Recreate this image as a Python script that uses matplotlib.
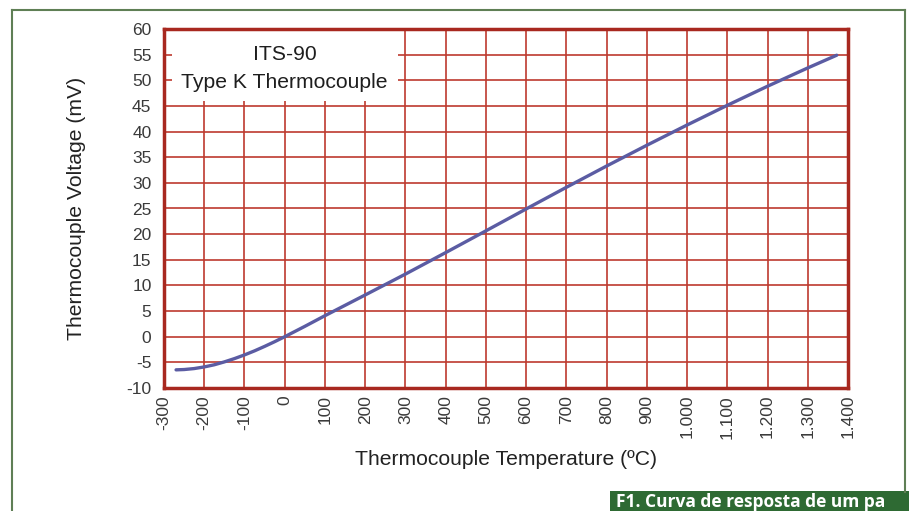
import matplotlib
matplotlib.use("Agg")
import matplotlib.pyplot as plt
from matplotlib.patches import Rectangle
from matplotlib.lines import Line2D
from matplotlib.ticker import FuncFormatter

plt.rcParams['font.family'] = ['Liberation Sans', 'DejaVu Sans']
plt.rcParams['axes.unicode_minus'] = False

# type K response curve (temperature in C, voltage in mV)
temp = [-270, -250, -225, -200, -175, -150, -125, -100, -75, -50, -25, 0,
        50, 100, 200, 300, 400, 500, 600, 700, 800, 900, 1000, 1100,
        1200, 1300, 1372]
volt = [-6.46, -6.40, -6.21, -5.89, -5.47, -4.91, -4.27, -3.55, -2.76, -1.89, -0.97, 0.0,
        2.02, 4.10, 8.14, 12.21, 16.40, 20.64, 24.91, 29.13, 33.28, 37.33, 41.28, 45.12,
        48.84, 52.41, 54.89]

xticks = list(range(-300, 1401, 100))
yticks = list(range(-10, 61, 5))

grid_red = '#bd3a2f'
frame_red = '#a8281f'
line_blue = '#5b5ca3'
frame_green = '#5f7f55'

fig = plt.figure(figsize=(9.09, 5.11), dpi=100)
ax = fig.add_axes([164/909, 1 - 388/511, 684/909, 359/511])

ax.set_xlim(-300, 1400)
ax.set_ylim(-10, 60)
ax.set_xticks(xticks)
ax.set_yticks(yticks)

def thousands(v, pos):
    v = int(v)
    if abs(v) >= 1000:
        return '{:,}'.format(v).replace(',', '.')
    return str(v)

ax.xaxis.set_major_formatter(FuncFormatter(thousands))
ax.tick_params(axis='x', length=0, pad=5, labelsize=12.5, labelcolor='#3a3a3a',
               labelrotation=90)
ax.tick_params(axis='y', length=0, pad=9, labelsize=12.5, labelcolor='#3a3a3a')

ax.grid(True, color=grid_red, linewidth=1.2, zorder=1)
ax.set_axisbelow(True)
for s in ax.spines.values():
    s.set_color(frame_red)
    s.set_linewidth(2.5)
    s.set_zorder(5)

ax.plot(temp, volt, color=line_blue, linewidth=2.4, zorder=4,
        solid_capstyle='round')

# title box in the upper left corner
ax.add_patch(Rectangle((-280, 46.0), 562, 14, facecolor='white',
                       edgecolor='none', zorder=3))
ax.text(0, 55.1, 'ITS-90', ha='center', va='center', fontsize=15.2,
        color='#1e1e1e', zorder=4)
ax.text(0, 49.6, 'Type K Thermocouple', ha='center', va='center',
        fontsize=15.2, color='#1e1e1e', zorder=4)

ax.set_xlabel('Thermocouple Temperature (\u00baC)', fontsize=15.2, color='#222222')
ax.set_ylabel('Thermocouple Voltage (mV)', fontsize=15.2, color='#222222')
ax.xaxis.set_label_coords(0.5, -0.173)
ax.yaxis.set_label_coords(-0.114, 0.5)

# green page frame
W, H = 909, 511
fig.add_artist(Line2D([12/W, 12/W], [0, 1 - 10/H], color=frame_green, lw=1.5))
fig.add_artist(Line2D([12/W, 905/W], [1 - 10/H, 1 - 10/H], color=frame_green, lw=1.5))
fig.add_artist(Line2D([905/W, 905/W], [1 - 10/H, 1 - 492/H], color=frame_green, lw=1.5))

# caption strip
fig.add_artist(Rectangle((610/W, 0), 1 - 610/W, 20/H, transform=fig.transFigure,
                         facecolor='#2e6a33', edgecolor='none'))
fig.text(616/W, 1 - 506.5/H, 'F1. Curva de resposta de um pa',
         ha='left', va='baseline', fontsize=12.5, fontweight='bold', color='white',
         family=['Open Sans', 'DejaVu Sans'])

fig.savefig('out.png', dpi=100, facecolor='white')
